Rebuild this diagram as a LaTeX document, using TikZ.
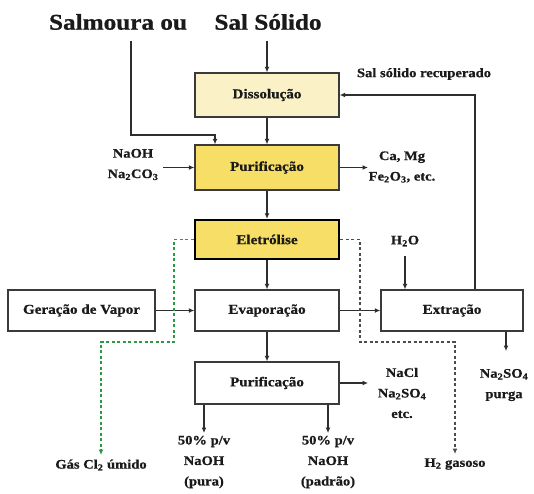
\documentclass[tikz,border=0pt]{standalone}
\usepackage{fontspec}
\setmainfont{Liberation Serif}[FakeStretch=1.12, FakeBold=0.8]
\usetikzlibrary{arrows.meta}
\definecolor{lightyel}{HTML}{FBF1C6}
\definecolor{yel}{HTML}{F7DE66}
\definecolor{linec}{HTML}{2E2E2E}
\definecolor{boxc}{HTML}{3A3A3A}
\definecolor{grn}{HTML}{2A9A45}
\definecolor{txt}{HTML}{1A1A1A}
\begin{document}
\begin{tikzpicture}[x=1pt,y=-1pt,
  box/.style={draw=boxc, line width=1.4pt, minimum width=144pt, text=txt,
    font=\bfseries\fontsize{13.5}{15}\selectfont, inner sep=2pt},
  titlef/.style={font=\bfseries\fontsize{22.5}{26}\selectfont, text=txt, inner sep=0pt},
  lbl/.style={font=\bfseries\fontsize{13}{20.5}\selectfont, align=center, text=txt, inner sep=0pt},
  arr/.style={-{Latex[length=5.5pt,width=5pt]}, line width=1.2pt, draw=linec},
  grnline/.style={-{Latex[length=5.5pt,width=5pt]}, line width=1.3pt, draw=grn, dash pattern=on 3pt off 2.5pt},
  grayline/.style={-{Latex[length=5.5pt,width=5pt]}, line width=1.2pt, draw=gray!60!black, dash pattern=on 3pt off 2.5pt}]
\useasboundingbox (0,0) rectangle (534,493);
\fill[white] (0,0) rectangle (534,493);
% titles
\node[titlef] (t1) at (118,22) {Salmoura ou};
\node[titlef] (t2) at (268,22) {Sal Sólido};
% boxes
\node[box, fill=lightyel, minimum height=44pt] (dis) at (267,95) {Dissolução};
\node[box, fill=yel, minimum height=45pt] (pur1) at (267,167.5) {Purificação};
\node[box, fill=yel, draw=black, line width=2.4pt, minimum height=39pt] (ele) at (267,239.5) {Eletrólise};
\node[box, minimum height=41pt] (eva) at (267,310.5) {Evaporação};
\node[box, minimum height=42pt] (pur2) at (267,383) {Purificação};
\node[box, minimum width=147pt, minimum height=41pt] (ger) at (81.5,310.5) {Geração de Vapor};
\node[box, minimum width=142pt, minimum height=41pt] (ext) at (452,310.5) {Extração};
% labels
\node[lbl] (rec) at (424,74) {Sal sólido recuperado};
\node[lbl] (naoh) at (133,164.5) {NaOH\\Na\textsubscript{2}CO\textsubscript{3}};
\node[lbl] (camg) at (402,167) {Ca, Mg\\Fe\textsubscript{2}O\textsubscript{3}, etc.};
\node[lbl] (h2o) at (405,241) {H\textsubscript{2}O};
\node[lbl] (nacl) at (402,393) {NaCl\\Na\textsubscript{2}SO\textsubscript{4}\\etc.};
\node[lbl] (purga) at (504,385) {Na\textsubscript{2}SO\textsubscript{4}\\purga};
\node[lbl] (pura) at (204,462) {50\% p/v\\NaOH\\(pura)};
\node[lbl] (padrao) at (328,462) {50\% p/v\\NaOH\\(padrão)};
\node[lbl] (cl2) at (101,465) {Gás Cl\textsubscript{2} úmido};
\node[lbl] (h2) at (455,464) {H\textsubscript{2} gasoso};
% coordinates
\coordinate (s1) at (131,41);
\coordinate (s2) at (267,41);
\coordinate (j1) at (215,135);
\coordinate (n1) at (163,167.5);
\coordinate (c1) at (368,167.5);
\coordinate (h1) at (405,256);
\coordinate (p1) at (506,351);
\coordinate (c2) at (368,383);
\coordinate (o1) at (204,433);
\coordinate (o2) at (328,433);
\coordinate (g1) at (174,342);
\coordinate (g2) at (101,455);
\coordinate (d1) at (360,342);
\coordinate (d2) at (455,454);
% connectors
\draw[arr] (s2) -- (dis.north);
\draw[arr] (s1) |- (j1) -- (j1 |- pur1.north);
\draw[arr] (dis.south) -- (pur1.north);
\draw[arr] (pur1.south) -- (ele.north);
\draw[arr] (ele.south) -- (eva.north);
\draw[arr] (eva.south) -- (pur2.north);
\draw[arr] (ger.east) -- (eva.west);
\draw[arr] (eva.east) -- (ext.west);
\draw[arr] ([xshift=23pt]ext.north) |- (dis.east);
\draw[arr] (n1) -- (pur1.west);
\draw[arr] (pur1.east) -- (c1);
\draw[arr] (h1) -- (h1 |- ext.north);
\draw[arr] (p1 |- ext.south) -- (p1);
\draw[arr] (pur2.east) -- (c2);
\draw[arr] (o1 |- pur2.south) -- (o1);
\draw[arr] (o2 |- pur2.south) -- (o2);
\draw[grnline] (ele.west) -| (g1) -| (g2);
\draw[grayline] (ele.east) -| (d1) -| (d2);
\end{tikzpicture}
\end{document}
